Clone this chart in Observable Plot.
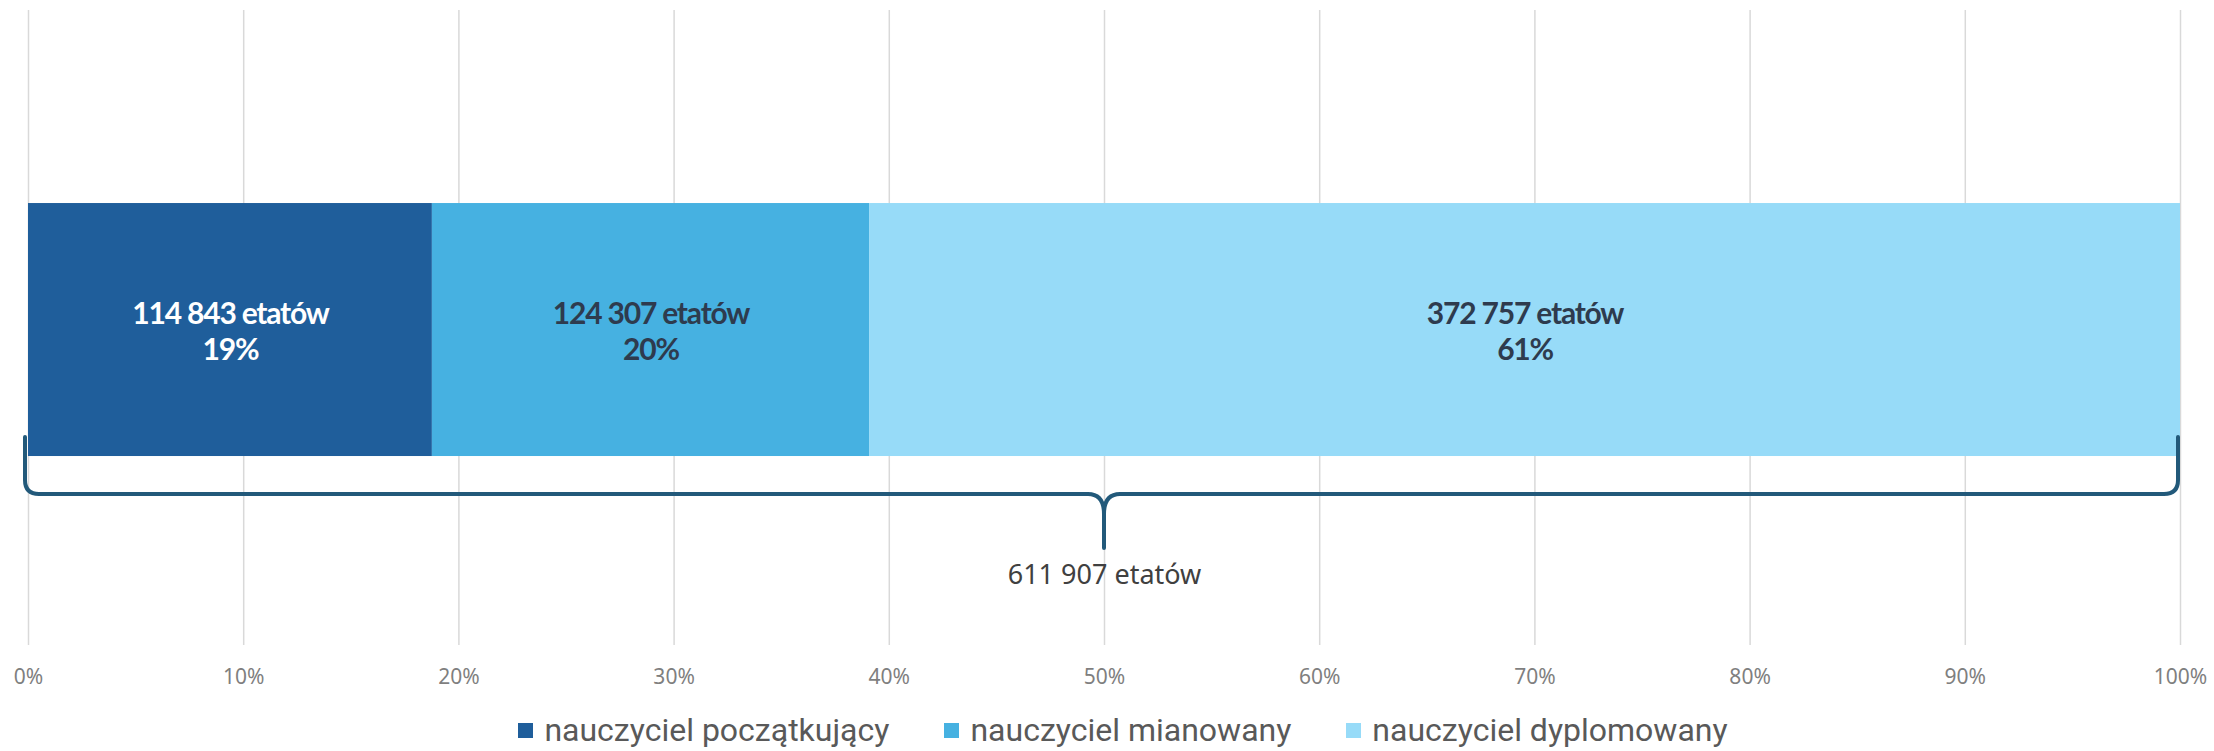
<!DOCTYPE html>
<html>
<head>
<meta charset="utf-8">
<script src="https://cdn.jsdelivr.net/npm/d3@7"></script>
<script src="https://cdn.jsdelivr.net/npm/@observablehq/plot@0.6"></script>
<style>
  html, body { margin: 0; padding: 0; background: #fff; }
  #chart svg { display: block; }
  #legend { display: flex; justify-content: center; align-items: flex-start; gap: 55px; box-sizing: border-box;
    height: 39px; padding-top: 2px; padding-left: 32px; font-family: Roboto, "Noto Sans", sans-serif; font-size: 32px; line-height: 32px; color: #595959; overflow: hidden; }
  #legend .item { display: flex; align-items: center; gap: 11px; white-space: nowrap; }
  #legend .sw { width: 15px; height: 15px; display: inline-block; }
</style>
</head>
<body>
<div id="chart"></div>
<div id="legend"></div>
<script>
// ---- data ----
const categories = ["nauczyciel początkujący", "nauczyciel mianowany", "nauczyciel dyplomowany"];
const etaty = [114843, 124307, 372757];
const percentLabels = ["19%", "20%", "61%"];
const colors = ["#1f5e9b", "#46b1e1", "#97dbf8"];
const labelColors = ["#ffffff", "#2e3b4e", "#2e3b4e"];
const tickValues = [0, 0.1, 0.2, 0.3, 0.4, 0.5, 0.6, 0.7, 0.8, 0.9, 1];
const tickLabels = ["0%", "10%", "20%", "30%", "40%", "50%", "60%", "70%", "80%", "90%", "100%"];
const unit = "etatów";

// ---- derived table ----
const locale = d3.formatLocale({decimal: ",", thousands: " ", grouping: [3], currency: ["", " zł"]});
const fmt = locale.format(",d");
const total = d3.sum(etaty);
let acc = 0;
const rows = categories.map((c, i) => {
  const share = etaty[i] / total;
  const r = {category: c, value: etaty[i], start: acc, end: acc + share, mid: acc + share / 2,
             label: `${fmt(etaty[i])} ${unit}\n${percentLabels[i]}`, textColor: labelColors[i]};
  acc += share;
  return r;
});

// brace annotation (drawn through the scales)
function brace(index, scales) {
  const {x, y} = scales;
  const xa = x(0) - 3, xb = x(1) - 2, xc = x(0.5);
  const yTop = y(0.075), yLine = y(-0.15), yTip = y(-0.364);
  const r = 14, c = 16;
  const d = [
    `M${xa},${yTop}`, `L${xa},${yLine - r}`, `Q${xa},${yLine} ${xa + r},${yLine}`,
    `L${xc - c},${yLine}`, `Q${xc},${yLine} ${xc},${yLine + c + 4}`, `L${xc},${yTip}`,
    `M${xc},${yLine + c + 4}`, `Q${xc},${yLine} ${xc + c},${yLine}`,
    `L${xb - r},${yLine}`, `Q${xb},${yLine} ${xb},${yLine - r}`, `L${xb},${yTop}`
  ].join(" ");
  const p = d3.create("svg:path")
    .attr("d", d).attr("fill", "none").attr("stroke", "#22597a")
    .attr("stroke-width", 4).attr("stroke-linecap", "round").attr("stroke-linejoin", "round");
  return p.node();
}

const chart = Plot.plot({
  width: 2214,
  height: 712,
  marginLeft: 28,
  marginRight: 34,
  marginTop: 10,
  marginBottom: 67,
  style: {fontFamily: "'Noto Sans', sans-serif", fontSize: "21px", color: "#7f7f7f", background: "#fff"},
  x: {domain: [0, 1], ticks: tickValues, tickFormat: (d) => tickLabels[tickValues.indexOf(d)] ?? "", tickSize: 0, tickPadding: 24, label: null},
  y: {domain: [-0.747, 1.763], axis: null},
  color: {domain: categories, range: colors},
  marks: [
    Plot.ruleX(tickValues, {stroke: "#d9d9d9", strokeWidth: 1.5}),
    Plot.rect(rows, {x1: "start", x2: "end", y1: 0, y2: 1, fill: "category"}),
    Plot.text(rows, {x: "mid", y: 0.5, text: "label", fill: "#ffffff", filter: (d) => d.textColor === "#ffffff",
      fontFamily: "Lato, sans-serif", fontWeight: "bold", fontSize: 30, lineHeight: 1.2}),
    Plot.text(rows, {x: "mid", y: 0.5, text: "label", fill: "#2e3b4e", filter: (d) => d.textColor !== "#ffffff",
      fontFamily: "Lato, sans-serif", fontWeight: "bold", fontSize: 30, lineHeight: 1.2}),
    brace,
    Plot.text([total], {x: 0.5, y: -0.47, text: (d) => `${fmt(d)} ${unit}`, fill: "#404040",
      fontFamily: "'Noto Sans', sans-serif", fontSize: 27})
  ]
});
// tighten the bar labels' letter spacing as in the reference
chart.querySelectorAll('g[font-family^="Lato"]').forEach((g) => g.setAttribute("letter-spacing", "-1.2"));
document.getElementById("chart").appendChild(chart);

const legend = document.getElementById("legend");
categories.forEach((c, i) => {
  const item = document.createElement("div");
  item.className = "item";
  item.innerHTML = `<span class="sw" style="background:${colors[i]}"></span><span>${c}</span>`;
  legend.appendChild(item);
});
</script>
</body>
</html>
